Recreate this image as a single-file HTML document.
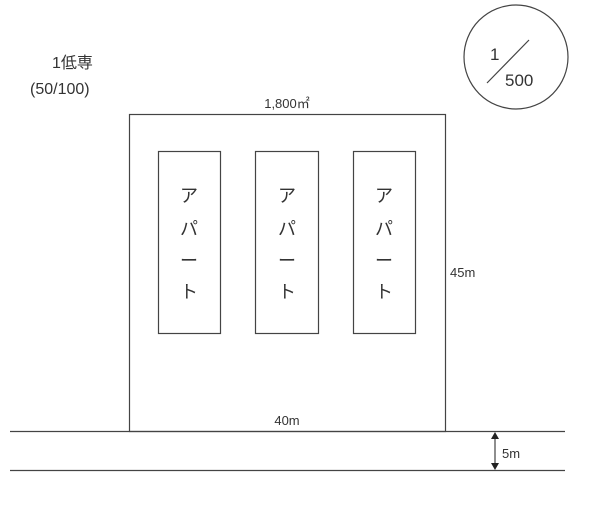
<!DOCTYPE html>
<html><head><meta charset="utf-8"><style>
body{margin:0;background:#fff;}
svg text{font-family:"Liberation Sans","Noto Sans CJK JP",sans-serif;fill:#333;}
</style></head><body>
<svg width="600" height="501" viewBox="0 0 600 501" xmlns="http://www.w3.org/2000/svg">
<g stroke="#444" stroke-width="1.2" fill="none">
<rect x="129.5" y="114.5" width="316" height="317"/>
<rect x="158.5" y="151.5" width="62" height="182"/>
<rect x="255.5" y="151.5" width="63" height="182"/>
<rect x="353.5" y="151.5" width="62" height="182"/>
<line x1="10" y1="431.5" x2="565" y2="431.5"/>
<line x1="10" y1="470.5" x2="565" y2="470.5"/>
<line x1="495" y1="436" x2="495" y2="466"/>
<circle cx="516" cy="57" r="52"/>
<line x1="487" y1="83" x2="529" y2="40"/>
</g>
<path d="M495 432 L491 439 L499 439Z M495 470 L491 463 L499 463Z" fill="#222"/>
<text x="52" y="68" font-size="16">1低専</text>
<text x="30" y="94" font-size="16">(50/100)</text>
<text x="287" y="108" font-size="13" text-anchor="middle">1,800㎡</text>
<text x="490" y="60" font-size="17">1</text>
<text x="505" y="86" font-size="17">500</text>
<g font-size="18" text-anchor="middle">
<text x="189" y="202">ア</text><text x="189" y="235">パ</text><text x="189" y="267">ー</text><text x="189" y="298">ト</text>
<text x="287" y="202">ア</text><text x="287" y="235">パ</text><text x="287" y="267">ー</text><text x="287" y="298">ト</text>
<text x="384" y="202">ア</text><text x="384" y="235">パ</text><text x="384" y="267">ー</text><text x="384" y="298">ト</text>
</g>
<text x="450" y="277" font-size="13">45m</text>
<text x="287" y="425" font-size="13" text-anchor="middle">40m</text>
<text x="502" y="458" font-size="13">5m</text>
</svg>
</body></html>
